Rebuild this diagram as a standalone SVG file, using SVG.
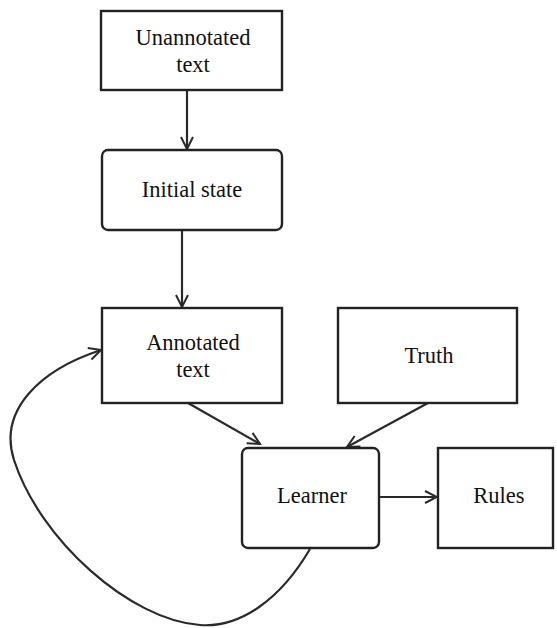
<svg xmlns="http://www.w3.org/2000/svg" width="557" height="628" viewBox="0 0 557 628">
<style>
.box{fill:#fff;stroke:#222;stroke-width:2.4;}
.lbl{font-family:"Liberation Serif","Times New Roman",serif;font-size:22.5px;fill:#111;text-anchor:middle;}
.edge{fill:none;stroke:#2a2a2a;stroke-width:2.2;marker-end:url(#arr);}
</style>
<defs>
<marker id="arr" markerUnits="userSpaceOnUse" markerWidth="16" markerHeight="16" viewBox="0 0 16 16" refX="14" refY="8" orient="auto">
<path d="M2,2 L14,8 L2,14" fill="none" stroke="#2a2a2a" stroke-width="2"/>
</marker>
</defs>
<rect width="557" height="628" fill="#fff"/>
<g id="connectors">
<path class="edge" d="M187,90 L187,149"/>
<path class="edge" d="M182,230 L182,307"/>
<path class="edge" d="M188,403 L260,444"/>
<path class="edge" d="M428,403 L347,447"/>
<path class="edge" d="M379,497 L437,497"/>
<path class="edge" d="M310,549 C280,600 240,628 200,625 C130,620 40,540 14,460 C-2,410 40,370 101,350"/>
</g>
<g id="unannotated">
<rect class="box" x="101" y="11" width="181" height="79"/>
<text class="lbl" x="193" y="45">Unannotated</text>
<text class="lbl" x="193" y="72">text</text>
</g>
<g id="initial">
<rect class="box" x="102" y="150" width="180" height="80" rx="6"/>
<text class="lbl" x="192" y="197">Initial state</text>
</g>
<g id="annotated">
<rect class="box" x="102" y="308" width="180" height="95"/>
<text class="lbl" x="193" y="350">Annotated</text>
<text class="lbl" x="193" y="377">text</text>
</g>
<g id="truth">
<rect class="box" x="338" y="308" width="179" height="95"/>
<text class="lbl" x="429" y="363">Truth</text>
</g>
<g id="learner">
<rect class="box" x="242" y="448" width="137" height="100" rx="6"/>
<text class="lbl" x="312" y="503">Learner</text>
</g>
<g id="rules">
<rect class="box" x="438" y="448" width="115" height="100"/>
<text class="lbl" x="499" y="503">Rules</text>
</g>
</svg>
